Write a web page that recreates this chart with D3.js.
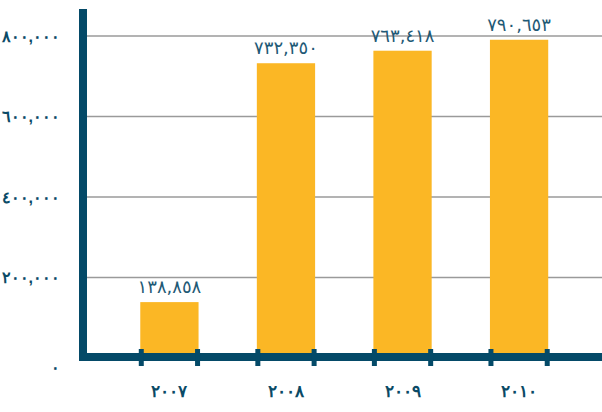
<!DOCTYPE html>
<html>
<head>
<meta charset="utf-8">
<script src="https://cdn.jsdelivr.net/npm/d3@7"></script>
<style>
  body { margin: 0; background: #fff; }
  svg { display: block; font-family: "DejaVu Sans", sans-serif; }
  .y-axis text { fill: #0a4a66; font-size: 16px; font-weight: bold; }
  .x-axis text { fill: #0a4a66; font-size: 17px; font-weight: bold; }
  .label { fill: #1f5a76; font-size: 18px; }
</style>
</head>
<body>
<svg id="chart" width="602" height="412"></svg>
<script>
// data
const years = ["2007", "2008", "2009", "2010"];
const visitors = [138858, 732350, 763418, 790653];
const yTicks = [0, 200000, 400000, 600000, 800000];

const axisColor = "#044a68";
const barColor = "#fbb725";

// western digits -> arabic-indic digits, keeps the plain comma
const arabicDigits = "٠١٢٣٤٥٦٧٨٩";
const toArabic = s => String(s).replace(/[0-9]/g, c => arabicDigits[+c]);
const fmt = v => toArabic(d3.format(",")(v));

const svg = d3.select("#chart");

// positions in page pixels
const x = d3.scaleBand()
    .domain(years)
    .range([82, 606.5])
    .paddingInner(0.5)
    .paddingOuter(0.5);

const y = d3.scaleLinear()
    .domain([0, 800000])
    .range([358, 36]);

// gridlines
svg.append("g")
    .selectAll("line")
    .data(yTicks.filter(d => d > 0))
    .enter()
    .append("line")
    .attr("x1", 87)
    .attr("x2", 602)
    .attr("y1", d => y(d))
    .attr("y2", d => y(d))
    .attr("stroke", "#9a9a9a")
    .attr("stroke-width", 1.5);

// bars
svg.selectAll(".bar")
    .data(visitors)
    .enter()
    .append("rect")
    .attr("class", "bar")
    .attr("x", (d, i) => x(years[i]))
    .attr("y", d => y(d))
    .attr("width", x.bandwidth())
    .attr("height", d => y(0) - y(d))
    .attr("fill", barColor);

// value labels
svg.selectAll(".label")
    .data(visitors)
    .enter()
    .append("text")
    .attr("class", "label")
    .attr("x", (d, i) => x(years[i]) + x.bandwidth() / 2)
    .attr("y", d => y(d) - 9)
    .attr("text-anchor", "middle")
    .text(d => fmt(d));

// y axis (labels only, line drawn below)
const yAxis = svg.append("g")
    .attr("class", "y-axis")
    .attr("transform", "translate(83,0)")
    .call(d3.axisLeft(y).tickValues(yTicks).tickSize(0).tickPadding(23).tickFormat(fmt));
yAxis.select(".domain").remove();
yAxis.selectAll(".tick")
    .filter(d => d === 0)
    .select("text")
    .attr("dy", "0.9em");

// x axis labels
const xAxis = svg.append("g")
    .attr("class", "x-axis")
    .attr("transform", "translate(0,361)")
    .call(d3.axisBottom(x).tickSize(0).tickPadding(24).tickFormat(toArabic));
xAxis.select(".domain").remove();

// thick axis lines
svg.append("line")
    .attr("x1", 83).attr("x2", 83)
    .attr("y1", 9).attr("y2", 361)
    .attr("stroke", axisColor)
    .attr("stroke-width", 8);

svg.append("line")
    .attr("x1", 79).attr("x2", 602)
    .attr("y1", 357).attr("y2", 357)
    .attr("stroke", axisColor)
    .attr("stroke-width", 8);

// tick marks at bar edges
const edges = years.flatMap(d => [x(d) + 1, x(d) + x.bandwidth() - 1]);
svg.append("g")
    .selectAll("line")
    .data(edges)
    .enter()
    .append("line")
    .attr("x1", d => d).attr("x2", d => d)
    .attr("y1", 349).attr("y2", 366)
    .attr("stroke", axisColor)
    .attr("stroke-width", 5);
</script>
</body>
</html>
